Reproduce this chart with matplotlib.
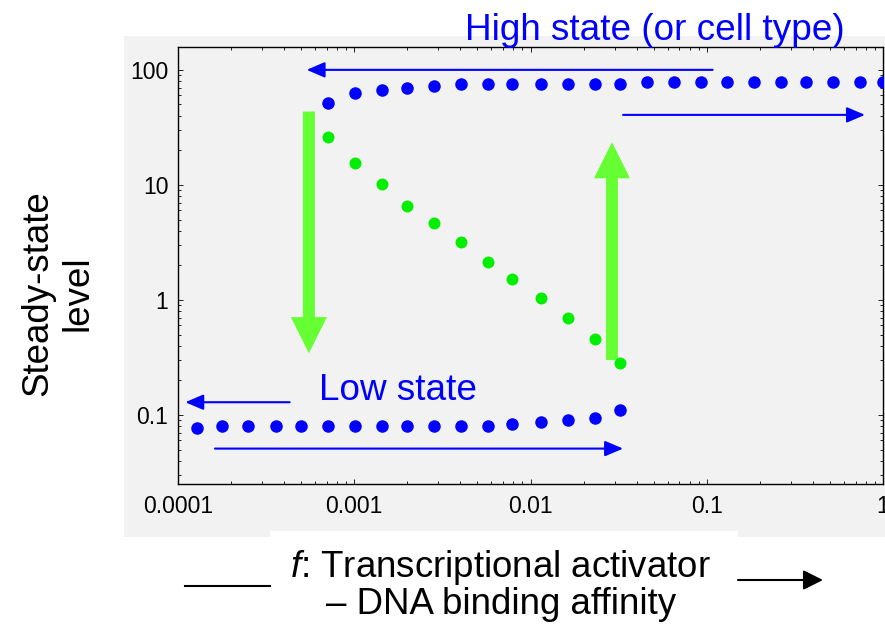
import matplotlib
matplotlib.use("Agg")
import matplotlib.pyplot as plt
from matplotlib.patches import Rectangle
from matplotlib.lines import Line2D

plt.rcParams['font.family'] = ['Liberation Sans', 'DejaVu Sans']
plt.rcParams['mathtext.fontset'] = 'custom'
plt.rcParams['mathtext.it'] = 'Liberation Sans:italic'
plt.rcParams['mathtext.rm'] = 'Liberation Sans'

# datos
high_f = [0.000706, 0.00101, 0.00144, 0.0020, 0.00283, 0.00403, 0.00574, 0.0079,
          0.0115, 0.0163, 0.0232, 0.0322, 0.0458, 0.0652, 0.0927, 0.130, 0.185,
          0.264, 0.366, 0.52, 0.741, 1.0]
high_level = [51, 63, 67, 70, 72, 75.5, 75.5, 76, 76, 76, 76, 76, 78, 78, 78, 78,
              78, 78, 78, 78, 78, 78]

mid_f = [0.000706, 0.00101, 0.00144, 0.0020, 0.00283, 0.00403, 0.00574, 0.0079,
         0.0115, 0.0163, 0.0232, 0.0322]
mid_level = [26.3, 15.5, 10.1, 6.6, 4.65, 3.18, 2.15, 1.52, 1.03, 0.70, 0.455, 0.285]

low_f = [0.000128, 0.000177, 0.00025, 0.000358, 0.000497, 0.000706, 0.00101,
         0.00144, 0.0020, 0.00283, 0.00403, 0.00574, 0.0079, 0.0115, 0.0163,
         0.0232, 0.0322]
low_level = [0.0766, 0.080, 0.080, 0.080, 0.080, 0.080, 0.080, 0.080, 0.080, 0.080,
             0.080, 0.080, 0.0835, 0.0865, 0.090, 0.0935, 0.110]

x_ticks = [0.0001, 0.001, 0.01, 0.1, 1]
x_labels = ["0.0001", "0.001", "0.01", "0.1", "1"]
y_ticks = [0.1, 1, 10, 100]
y_labels = ["0.1", "1", "10", "100"]

W, H = 885, 630
azul = '#0000ff'
verde = '#00ee00'
verde_flecha = '#66ff33'
gris = '#f2f2f2'

fig = plt.figure(figsize=(W / 100, H / 100), dpi=100)
fig.patch.set_facecolor('white')

# fondo gris y caja blanca del titulo x
fig.patches.append(Rectangle((124 / W, 1 - 537 / H), (W - 124) / W, (537 - 36) / H,
                             transform=fig.transFigure, facecolor=gris, edgecolor='none', zorder=-10))
fig.patches.append(Rectangle((270 / W, 0), (738 - 270) / W, (H - 531) / H,
                             transform=fig.transFigure, facecolor='white', edgecolor='none', zorder=-9))

ax = fig.add_axes([178 / W, 1 - 484 / H, (883 - 178) / W, (484 - 47) / H])
ax.set_facecolor(gris)
ax.set_xscale('log')
ax.set_yscale('log')
ax.set_xlim(1e-4, 1)
ax.set_ylim(0.0251, 158)

ax.plot(high_f, high_level, 'o', color=azul, ms=9, mec='none', zorder=4)
ax.plot(low_f, low_level, 'o', color=azul, ms=9, mec='none', zorder=4)
ax.plot(mid_f, mid_level, 'o', color=verde, ms=8.6, mec='none', zorder=4)

ax.set_xticks(x_ticks)
ax.set_xticklabels(x_labels)
ax.set_yticks(y_ticks)
ax.set_yticklabels(y_labels)
ax.tick_params(which='both', direction='in', top=True, right=True, colors='#222222',
               width=0.7, labelsize=16.5, labelcolor='black')
ax.tick_params(which='major', length=3.6)
ax.tick_params(which='minor', length=2.2)
ax.tick_params(axis='y', pad=7)
ax.tick_params(axis='x', pad=8)
for s in ax.spines.values():
    s.set_linewidth(1.0)
    s.set_color('black')

# flechas azules
flecha_azul = dict(arrowstyle='-|>,head_length=1.1,head_width=0.47', mutation_scale=10,
                   color=azul, lw=1.5, shrinkA=0, shrinkB=0)
ax.annotate('', xy=(0.000537, 100), xytext=(0.108, 100), arrowprops=flecha_azul, zorder=3)
ax.annotate('', xy=(0.79, 40.6), xytext=(0.0335, 40.6), arrowprops=flecha_azul, zorder=3)
ax.annotate('', xy=(0.00011, 0.129), xytext=(0.00043, 0.129), arrowprops=flecha_azul, zorder=3)
ax.annotate('', xy=(0.0335, 0.051), xytext=(0.000162, 0.051), arrowprops=flecha_azul, zorder=3)

# flechas verdes
flecha_verde = dict(arrowstyle='simple,head_length=2.6,head_width=2.6,tail_width=0.86',
                    mutation_scale=10, color=verde_flecha, lw=0, shrinkA=0, shrinkB=0)
ax.annotate('', xy=(0.000553, 0.344), xytext=(0.000553, 43.4), arrowprops=flecha_verde, zorder=2)
ax.annotate('', xy=(0.029, 23.5), xytext=(0.029, 0.30), arrowprops=flecha_verde, zorder=2)

# textos
fig.text(465 / W, 1 - 40 / H, 'High state (or cell type)', color=azul, fontsize=26.6,
         ha='left', va='baseline')
fig.text(319 / W, 1 - 400 / H, 'Low state', color=azul, fontsize=26.6,
         ha='left', va='baseline')
fig.text(58 / W, 1 - 293 / H, 'Steady-state\nlevel', rotation=90, fontsize=26.5,
         ha='center', va='center', multialignment='center')
fig.text(500 / W, 1 - 577 / H, r'$\mathit{f}$: Transcriptional activator', fontsize=26.4,
         ha='center', va='baseline')
fig.text(501 / W, 1 - 614 / H, '\u2013 DNA binding affinity', fontsize=26.4,
         ha='center', va='baseline')

fig.lines.append(Line2D([185 / W, 270 / W], [1 - 585.7 / H, 1 - 585.7 / H],
                        transform=fig.transFigure, color='black', lw=1.5))
fig.patches.append(matplotlib.patches.FancyArrowPatch(
    (738 / W, 1 - 580 / H), (823 / W, 1 - 580 / H), transform=fig.transFigure,
    arrowstyle='-|>,head_length=1.2,head_width=0.6', mutation_scale=10,
    color='black', lw=1.5, shrinkA=0, shrinkB=0))

fig.savefig('out.png', dpi=100)
